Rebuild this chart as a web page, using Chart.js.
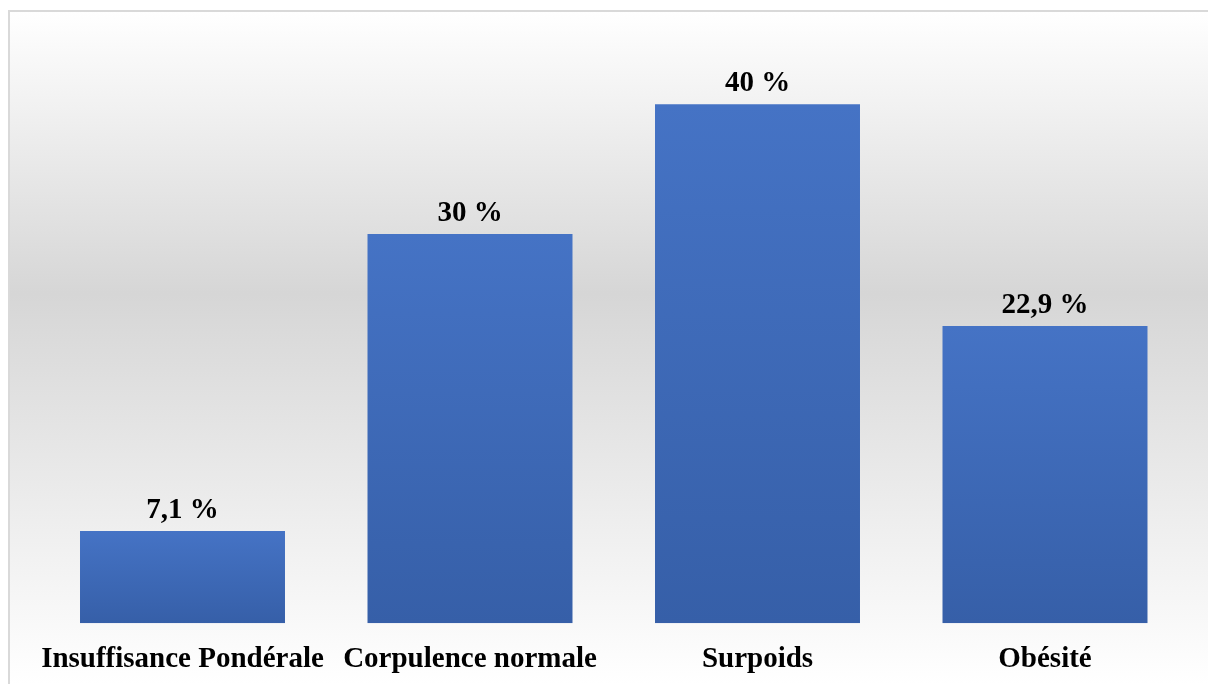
<!DOCTYPE html>
<html>
<head>
<meta charset="utf-8">
<script src="https://cdn.jsdelivr.net/npm/chart.js@4/dist/chart.umd.min.js"></script>
<style>
  html, body { margin: 0; padding: 0; background: #ffffff; }
  #wrap { width: 1208px; height: 684px; position: relative; }
</style>
</head>
<body>
<div id="wrap"><canvas id="c" width="1208" height="684"></canvas></div>
<script>
// Corpulence categories and their share (%)
const categories = ['Insuffisance Pondérale', 'Corpulence normale', 'Surpoids', 'Obésité'];
const percentages = [7.1, 30, 40, 22.9];
const yMax = 45;

const FONT = '"Liberation Serif", "Times New Roman", serif';

// Panel background: vertical grey gradient with a thin frame
const panelBackground = {
  id: 'panelBackground',
  beforeDraw(chart) {
    const ctx = chart.ctx;
    const x0 = 9, y0 = 11, x1 = chart.width + 4, y1 = chart.height + 4;
    const g = ctx.createLinearGradient(0, y0, 0, chart.height);
    g.addColorStop(0, '#ffffff');
    g.addColorStop(0.42, '#d6d6d6');
    g.addColorStop(0.9, '#f8f8f8');
    g.addColorStop(1, '#ffffff');
    ctx.save();
    ctx.fillStyle = g;
    ctx.fillRect(x0, y0, x1 - x0, y1 - y0);
    ctx.strokeStyle = '#d9d9d9';
    ctx.lineWidth = 2;
    ctx.strokeRect(x0, y0, x1 - x0, y1 - y0);
    ctx.restore();
  }
};

// Value labels above each bar, e.g. "22,9 %"
const valueLabels = {
  id: 'valueLabels',
  afterDatasetsDraw(chart) {
    const ctx = chart.ctx;
    const meta = chart.getDatasetMeta(0);
    ctx.save();
    ctx.font = 'bold 29px ' + FONT;
    ctx.fillStyle = '#000000';
    ctx.textAlign = 'center';
    ctx.textBaseline = 'alphabetic';
    meta.data.forEach((bar, i) => {
      const txt = String(percentages[i]).replace('.', ',') + ' %';
      ctx.fillText(txt, bar.x, bar.y - 13);
    });
    ctx.restore();
  }
};

// Each bar gets its own top-to-bottom blue gradient
function barGradient(context) {
  const chart = context.chart;
  const y = chart.scales && chart.scales.y;
  if (!y || context.dataIndex === undefined) return '#4472c4';
  const top = y.getPixelForValue(percentages[context.dataIndex]);
  const base = y.getPixelForValue(0);
  if (!isFinite(top) || !isFinite(base) || top === base) return '#4472c4';
  const g = chart.ctx.createLinearGradient(0, top, 0, base);
  g.addColorStop(0, '#4573c5');
  g.addColorStop(1, '#365fa8');
  return g;
}

new Chart(document.getElementById('c'), {
  type: 'bar',
  data: {
    labels: categories,
    datasets: [{
      data: percentages,
      backgroundColor: barGradient,
      borderWidth: 0,
      categoryPercentage: 0.713,
      barPercentage: 1.0
    }]
  },
  options: {
    responsive: false,
    animation: false,
    devicePixelRatio: 1,
    layout: { padding: { left: 38.75, right: 19.25, top: 39.25, bottom: -12 } },
    plugins: {
      legend: { display: false },
      tooltip: { enabled: false }
    },
    scales: {
      x: {
        grid: { display: false, drawTicks: false },
        border: { display: false },
        ticks: {
          autoSkip: false,
          maxRotation: 0,
          minRotation: 0,
          padding: 19,
          color: '#000000',
          font: { family: FONT, size: 29, weight: 'bold' }
        }
      },
      y: {
        display: false,
        min: 0,
        max: yMax
      }
    }
  },
  plugins: [panelBackground, valueLabels]
});
</script>
</body>
</html>
